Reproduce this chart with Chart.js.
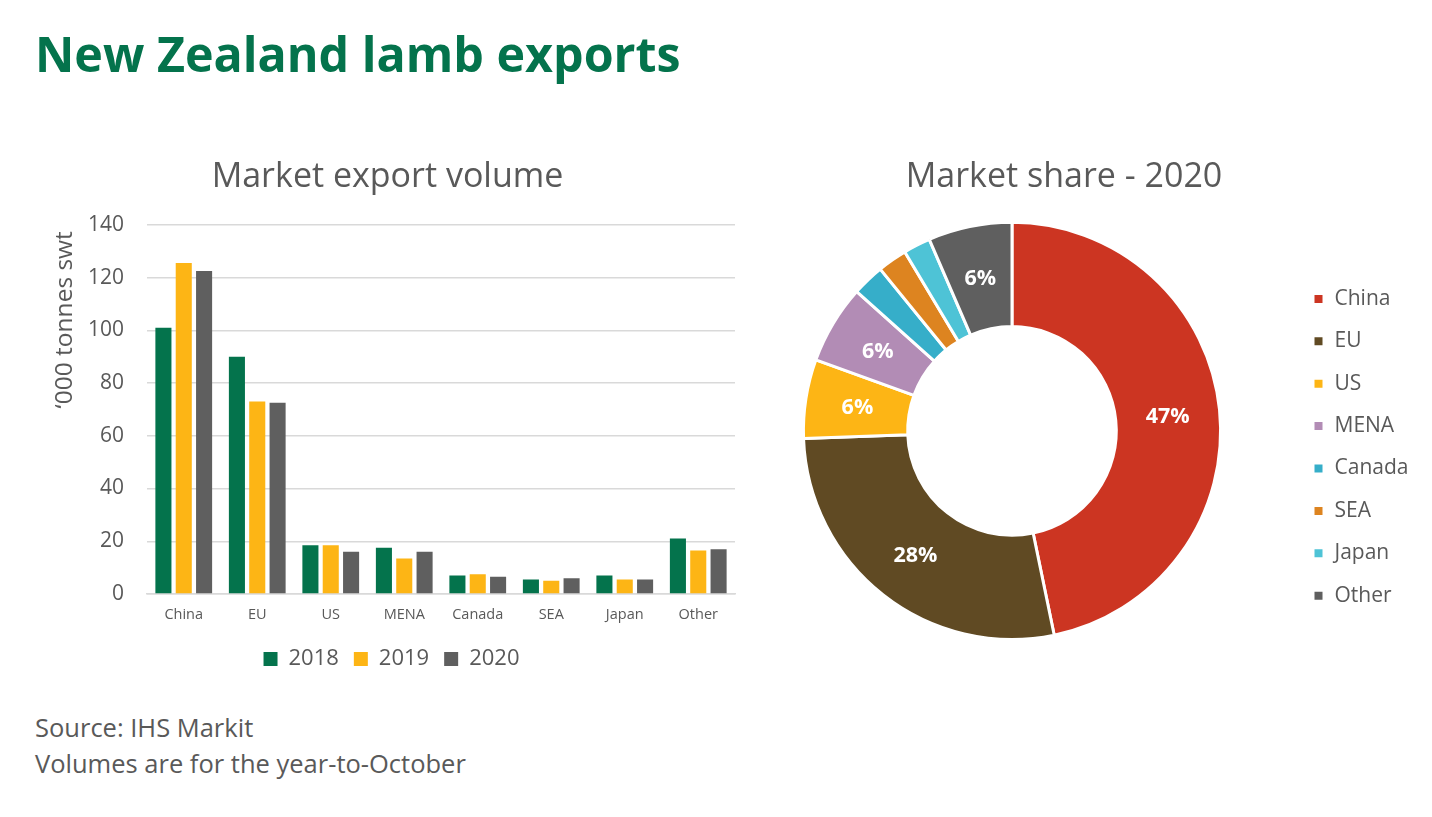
<!DOCTYPE html>
<html>
<head>
<meta charset="utf-8">
<script src="https://cdn.jsdelivr.net/npm/chart.js@4"></script>
<style>
html, body { margin: 0; padding: 0; background: #fff; }
body { width: 1432px; height: 817px; position: relative; overflow: hidden; font-family: "Open Sans", sans-serif; color: #595959; }
#title { position: absolute; left: 35px; top: 19px; font-size: 48.4px; font-weight: 700; color: #04734c; line-height: 68px; white-space: nowrap; }
#source { position: absolute; left: 35px; top: 709px; font-size: 25.5px; line-height: 36px; color: #595959; white-space: nowrap; }
#barWrap { position: absolute; left: 40px; top: 157px; width: 702px; height: 523px; }
#pieWrap { position: absolute; left: 720px; top: 157px; width: 712px; height: 520px; }
</style>
</head>
<body>
<div id="title">New Zealand lamb exports</div>
<div id="barWrap"><canvas id="barChart"></canvas></div>
<div id="pieWrap"><canvas id="pieChart"></canvas></div>
<div id="source">Source: IHS Markit<br>Volumes are for the year-to-October</div>
<script>
const categories = ["China", "EU", "US", "MENA", "Canada", "SEA", "Japan", "Other"];
const years = ["2018", "2019", "2020"];
const values2018 = [101, 90, 18.5, 17.5, 7, 5.5, 7, 21];
const values2019 = [125.5, 73, 18.5, 13.5, 7.5, 5, 5.5, 16.5];
const values2020 = [122.5, 72.5, 16, 16, 6.5, 6, 5.5, 17];
const yearColors = ["#04734c", "#fdb515", "#5f5f5f"];
const shareColors = ["#cc3522", "#604a23", "#fdb515", "#b28cb5", "#36aec9", "#dd8420", "#4ec3d6", "#5f5f5f"];
const shareLabels = ["47%", "28%", "6%", "6%", "", "", "", "6%"];

const textColor = "#595959";
const gridColor = "#d9d9d9";
const fontName = "'Open Sans', sans-serif";

const sliceLabels = {
    id: "sliceLabels",
    afterDatasetsDraw(chart) {
        const ctx = chart.ctx;
        chart.getDatasetMeta(0).data.forEach((arc, i) => {
            if (!shareLabels[i]) return;
            const p = arc.tooltipPosition();
            ctx.save();
            ctx.fillStyle = "#fff";
            ctx.font = "700 21.5px " + fontName;
            ctx.textAlign = "center";
            ctx.textBaseline = "middle";
            ctx.fillText(shareLabels[i], p.x, p.y + 1.5);
            ctx.restore();
        });
    }
};

// bar legend sits a little right of the canvas centre
const barLegendShift = {
    id: "barLegendShift",
    afterLayout(chart) {
        chart.legend.left += 4;
        chart.legend.right += 4;
    }
};

// pie legend sits lower than the ring and overlaps the reserved width
const pieLegendShift = {
    id: "pieLegendShift",
    afterLayout(chart) {
        chart.legend.left = 571.6;
        chart.legend.right = 712;
        chart.legend.top += 110;
        chart.legend.bottom += 110;
    }
};

new Chart(document.getElementById("barChart"), {
    type: "bar",
    data: {
        labels: categories,
        datasets: [values2018, values2019, values2020].map((v, i) => ({
            label: years[i],
            data: v,
            backgroundColor: yearColors[i],
            categoryPercentage: 0.83,
            barPercentage: 0.79
        }))
    },
    options: {
        responsive: true,
        maintainAspectRatio: false,
        animation: false,
        layout: { padding: { left: 0, right: 7, top: 0, bottom: 0 } },
        plugins: {
            title: {
                display: true,
                text: "Market export volume",
                color: textColor,
                font: { family: fontName, size: 34, weight: "400" },
                padding: { top: 0, bottom: 27 }
            },
            legend: {
                position: "bottom",
                labels: {
                    color: textColor,
                    font: { family: fontName, size: 22 },
                    boxWidth: 14,
                    boxHeight: 14,
                    padding: 15
                }
            },
            tooltip: { enabled: false }
        },
        scales: {
            x: {
                grid: { display: false },
                border: { color: gridColor, width: 1.5 },
                ticks: { color: textColor, font: { family: fontName, size: 14.5 }, padding: 4 },
                afterFit: scale => { scale.height = 39; }
            },
            y: {
                min: 0,
                max: 140,
                ticks: { stepSize: 20, color: textColor, font: { family: fontName, size: 21 }, padding: 23 },
                grid: { color: gridColor, lineWidth: 1.5, drawTicks: false },
                border: { display: false },
                afterFit: scale => { scale.width = 107; },
                title: {
                    display: true,
                    text: "‘000 tonnes swt\u00a0",
                    align: "end",
                    color: textColor,
                    font: { family: fontName, size: 24.5 },
                    padding: { top: 10, bottom: 0 }
                }
            }
        }
    },
    plugins: [barLegendShift]
});

new Chart(document.getElementById("pieChart"), {
    type: "doughnut",
    data: {
        labels: categories,
        datasets: [{
            data: values2020,
            backgroundColor: shareColors,
            borderColor: "#fff",
            borderWidth: 3
        }]
    },
    options: {
        responsive: true,
        maintainAspectRatio: false,
        animation: false,
        cutout: "50%",
        layout: { padding: { right: 24, bottom: 36 } },
        plugins: {
            title: {
                display: true,
                text: "Market share - 2020",
                color: textColor,
                font: { family: fontName, size: 34, weight: "400" },
                padding: { top: 0, bottom: 23 }
            },
            legend: {
                position: "right",
                align: "start",
                maxWidth: 104,
                labels: {
                    color: textColor,
                    font: { family: fontName, size: 21 },
                    boxWidth: 11,
                    boxHeight: 11,
                    padding: 21.4
                }
            },
            tooltip: { enabled: false }
        }
    },
    plugins: [sliceLabels, pieLegendShift]
});
</script>
</body>
</html>
